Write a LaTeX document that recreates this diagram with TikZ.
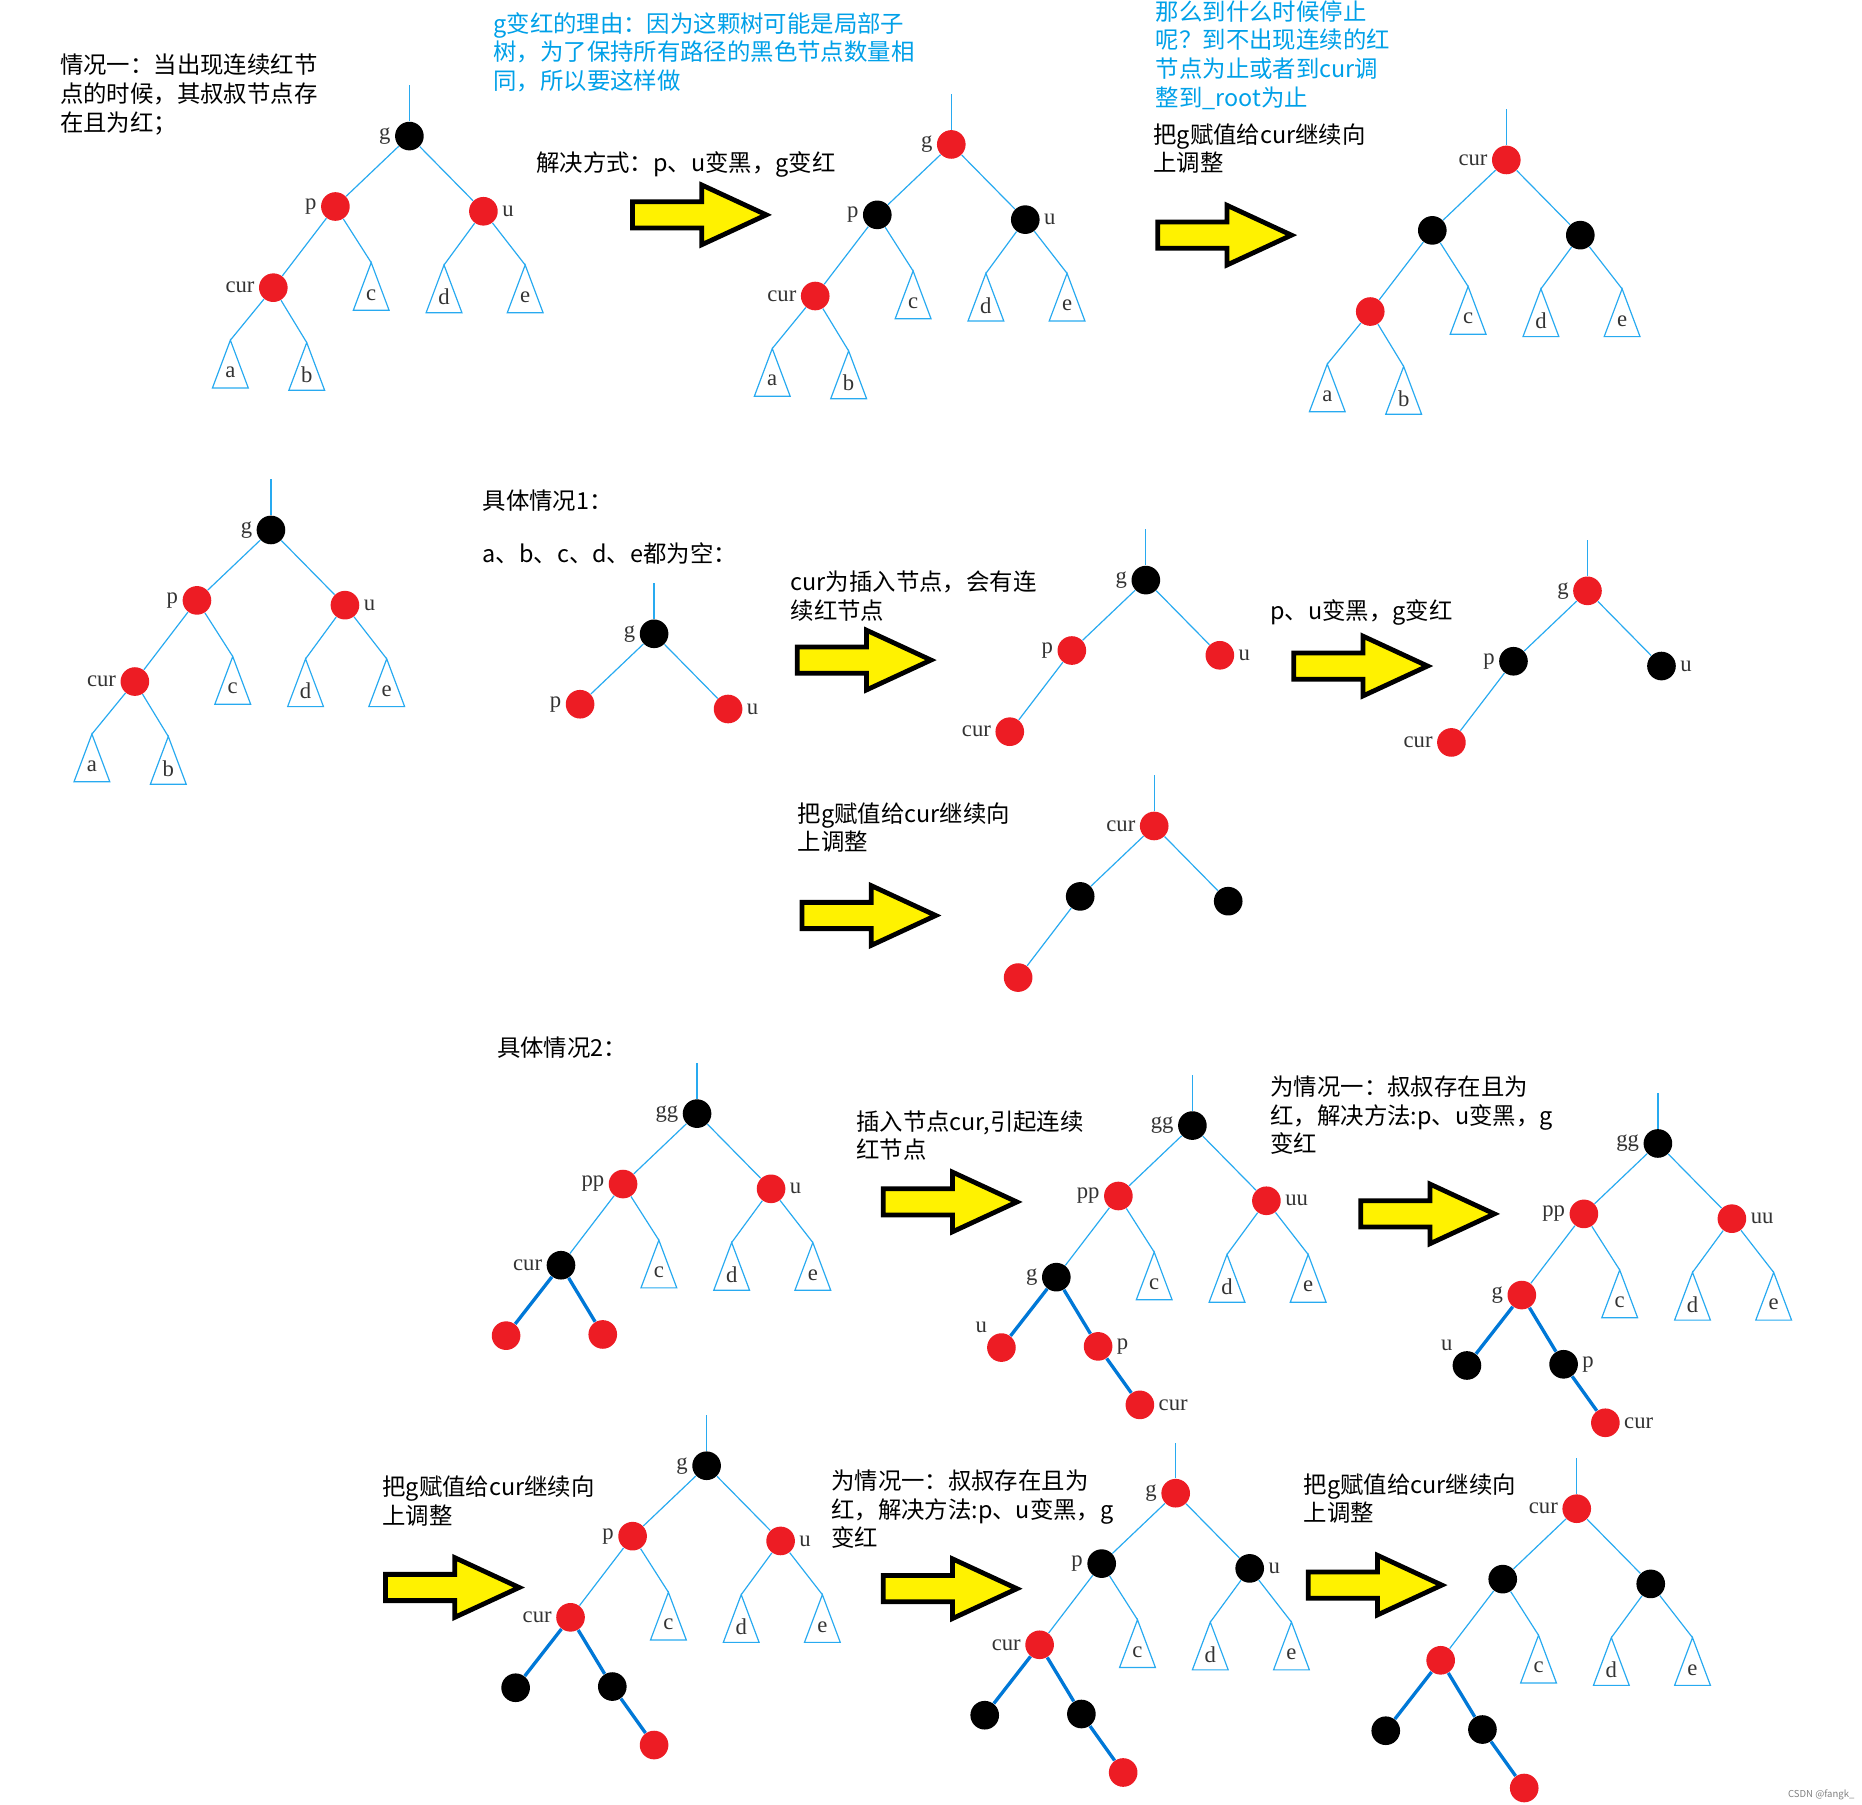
\documentclass[tikz,border=0pt]{standalone}
\usepackage{fontspec}
\setmainfont{Noto Sans CJK SC}
\newfontfamily\labf{Liberation Serif}
\definecolor{bl}{RGB}{0,160,232}
\definecolor{ed}{RGB}{40,170,240}
\definecolor{tk}{RGB}{0,120,215}
\definecolor{rd}{RGB}{237,28,36}
\definecolor{yl}{RGB}{255,242,0}
\tikzset{
 rb/.style={circle,fill=#1,minimum size=12pt,inner sep=0pt},
 lab/.style={font=\labf\fontsize{9.5}{10}\selectfont,text=black!80,inner sep=1.5pt},
 edge/.style={draw=ed,line width=0.5pt},
 thk/.style={draw=tk,line width=1.4pt},
 txt/.style={anchor=north west,align=left,inner sep=0pt,font=\fontsize{9.8}{12}\selectfont},
 yar/.style={fill=yl,draw=black,line width=2pt,line join=miter}
}
\newcommand\gpu[7]{%
 \node[rb=#2,label={[lab]left:#5}] (#1g) at (0,0) {};
 \node[rb=#3,label={[lab]left:#6}] (#1p) at (-62,59) {};
 \node[rb=#4,label={[lab]right:#7}] (#1u) at (62,63) {};
 \draw[edge] (#1g.north) -- ++(0,-30); \draw[edge] (#1g)--(#1p); \draw[edge] (#1g)--(#1u);}
\newcommand\addcur[3]{\node[rb=#2,label={[lab]left:#3}] (#1c) at (-114,127) {}; \draw[edge] (#1p)--(#1c);}
\newcommand\tri[3]{\coordinate (#1) at (#2); \draw[edge] (#1) -- ++(-15,40) -- ++(30,0) -- cycle; \path (#1) ++(0,27) node[lab] {#3};}
\newcommand\addcde[1]{\tri{#1tc}{-32,106}{c}\tri{#1td}{29,108}{d}\tri{#1te}{97,108}{e}%
 \draw[edge](#1p)--(#1tc); \draw[edge](#1u)--(#1td); \draw[edge](#1u)--(#1te);}
\newcommand\addab[1]{\tri{#1ta}{-150,171}{a}\tri{#1tb}{-86,173}{b}\draw[edge](#1c)--(#1ta); \draw[edge](#1c)--(#1tb);}
\newcommand\addlow[5]{%
 \node[rb=#2,label={[lab]above left:#4}] (#1l) at (-160,186) {};
 \node[rb=#3,label={[lab]right:#5}] (#1r) at (-79,185) {};
 \draw[thk](#1c)--(#1l); \draw[thk](#1c)--(#1r);}
\newcommand\addrr[3]{\node[rb=#2,label={[lab]right:#3}] (#1rr) at (-44,234) {}; \draw[thk](#1r)--(#1rr);}
\newcommand\yarrow[1]{\draw[yar] (#1) ++(0,-11) -- ++(58,0) -- ++(0,-14) -- ++(54,25) -- ++(-54,25) -- ++(0,-14) -- ++(-58,0) -- cycle;}
\begin{document}
\begin{tikzpicture}[x=0.5pt,y=-0.5pt]
\useasboundingbox (0,0) rectangle (1560,1512);
% row 1
\begin{scope}[shift={(343,114)}]\gpu{a}{black}{rd}{rd}{g}{p}{u}\addcur{a}{rd}{cur}\addcde{a}\addab{a}\end{scope}
\begin{scope}[shift={(797,121)}]\gpu{b}{rd}{black}{black}{g}{p}{u}\addcur{b}{rd}{cur}\addcde{b}\addab{b}\end{scope}
\begin{scope}[shift={(1262,134)}]\gpu{c}{rd}{black}{black}{cur}{}{}\addcur{c}{rd}{}\addcde{c}\addab{c}\end{scope}
\begin{scope}[shift={(227,444)}]\gpu{d}{black}{rd}{rd}{g}{p}{u}\addcur{d}{rd}{cur}\addcde{d}\addab{d}\end{scope}
% case 1
\begin{scope}[shift={(548,531)}]\gpu{e}{black}{rd}{rd}{g}{p}{u}\end{scope}
\begin{scope}[shift={(960,486)}]\gpu{f}{black}{rd}{rd}{g}{p}{u}\addcur{f}{rd}{cur}\end{scope}
\begin{scope}[shift={(1330,495)}]\gpu{h}{rd}{black}{black}{g}{p}{u}\addcur{h}{rd}{cur}\end{scope}
\begin{scope}[shift={(967,692)}]\gpu{i}{rd}{black}{black}{cur}{}{}\addcur{i}{rd}{}\end{scope}
% case 2
\begin{scope}[shift={(584,933)}]\gpu{j}{black}{rd}{rd}{gg}{pp}{u}\addcur{j}{black}{cur}\addcde{j}\addlow{j}{rd}{rd}{}{}\end{scope}
\begin{scope}[shift={(999,943)}]\gpu{k}{black}{rd}{rd}{gg}{pp}{uu}\addcur{k}{black}{g}\addcde{k}\addlow{k}{rd}{rd}{u}{p}\addrr{k}{rd}{cur}\end{scope}
\begin{scope}[shift={(1389,958)}]\gpu{l}{black}{rd}{rd}{gg}{pp}{uu}\addcur{l}{rd}{g}\addcde{l}\addlow{l}{black}{black}{u}{p}\addrr{l}{rd}{cur}\end{scope}
\begin{scope}[shift={(592,1228)}]\gpu{m}{black}{rd}{rd}{g}{p}{u}\addcur{m}{rd}{cur}\addcde{m}\addlow{m}{black}{black}{}{}\addrr{m}{rd}{}\end{scope}
\begin{scope}[shift={(985,1251)}]\gpu{n}{rd}{black}{black}{g}{p}{u}\addcur{n}{rd}{cur}\addcde{n}\addlow{n}{black}{black}{}{}\addrr{n}{rd}{}\end{scope}
\begin{scope}[shift={(1321,1264)}]\gpu{o}{rd}{black}{black}{cur}{}{}\addcur{o}{rd}{}\addcde{o}\addlow{o}{black}{black}{}{}\addrr{o}{rd}{}\end{scope}
% arrows
\yarrow{530,180}\yarrow{970,197}\yarrow{668,553}\yarrow{1084,558}\yarrow{672,767}
\yarrow{740,1007}\yarrow{1140,1017}\yarrow{323,1330}\yarrow{740,1331}\yarrow{1096,1328}
% texts
\node[txt] (t1) at (50,45) {情况一：当出现连续红节\\点的时候，其叔叔节点存\\在且为红；};
\node[txt,text=bl] (t2) at (413,10) {g变红的理由：因为这颗树可能是局部子\\树，为了保持所有路径的黑色节点数量相\\同，所以要这样做};
\node[txt] (t3) at (449,127) {解决方式：p、u变黑，g变红};
\node[txt,text=bl] (t4) at (968,0) {那么到什么时候停止\\呢？到不出现连续的红\\节点为止或者到cur调\\整到\_root为止};
\node[txt] (t5) at (966,103) {把g赋值给cur继续向\\上调整};
\node[txt] (t6) at (404,410) {具体情况1：};
\node[txt] (t7) at (404,454) {a、b、c、d、e都为空：};
\node[txt] (t8) at (662,478) {cur为插入节点，会有连\\续红节点};
\node[txt] (t9) at (1064,502) {p、u变黑，g变红};
\node[txt] (t10) at (668,672) {把g赋值给cur继续向\\上调整};
\node[txt] (t11) at (416,868) {具体情况2：};
\node[txt] (t12) at (717,930) {插入节点cur,引起连续\\红节点};
\node[txt] (t13) at (1064,901) {为情况一：叔叔存在且为\\红，解决方法:p、u变黑，g\\变红};
\node[txt] (t14) at (320,1236) {把g赋值给cur继续向\\上调整};
\node[txt] (t15) at (696,1231) {为情况一：叔叔存在且为\\红，解决方法:p、u变黑，g\\变红};
\node[txt] (t16) at (1092,1234) {把g赋值给cur继续向\\上调整};
\node[anchor=south east,inner sep=1pt,font=\fontsize{4}{5}\selectfont,text=black!50] (wm) at (1556,1510) {CSDN @fangk\_};
\end{tikzpicture}
\end{document}
